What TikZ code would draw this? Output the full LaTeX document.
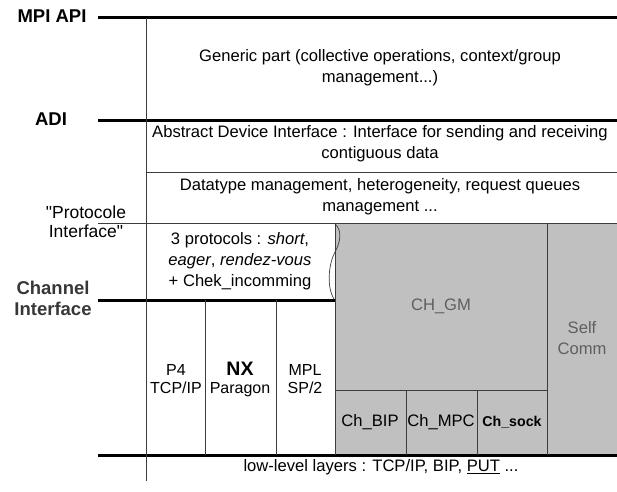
\documentclass[tikz,border=0pt]{standalone}
\usepackage{fontspec}
\setmainfont{Liberation Sans}
\definecolor{layergray}{RGB}{192,192,192}
\definecolor{rulegray}{RGB}{60,60,60}
\definecolor{gmgray}{RGB}{95,95,95}
\definecolor{chgray}{RGB}{55,55,55}

\begin{document}
\begin{tikzpicture}[x = 1pt, y = -1pt]
\tikzstyle{LevelStyle}=[
font = \fontsize{18.5}{21}\selectfont\bfseries,
align = center,
inner sep = 0pt]
\tikzstyle{TextStyle}=[
font = \fontsize{16.6}{20.8}\selectfont,
align = center,
inner sep = 0pt]
\tikzstyle{ThickRule}=[line width = 3pt]
\tikzstyle{ThinRule}=[line width = 0.9pt, draw = rulegray]
\useasboundingbox (0, 0) rectangle (617, 491);
% grey channel devices
\fill[layergray] (335, 223) rectangle (617, 455);
% level names
\node[LevelStyle] (mpi) at (52, 16) {MPI API};
\node[LevelStyle] (adi) at (51, 119) {ADI};
\node[TextStyle, font = \fontsize{17.5}{19}\selectfont] (proto) at (86, 222) {\textquotedbl Protocole\\Interface\textquotedbl};
\node[LevelStyle, text = chgray] (chan) at (53, 298) {Channel\\Interface};
% layer contents
\node[TextStyle] (generic) at (380, 68) {Generic part (collective operations, context/group\\management...)};
\node[TextStyle] (abstract) at (380, 144) {Abstract Device Interface : Interface for sending and receiving\\contiguous data};
\node[TextStyle] (datatype) at (380, 197) {Datatype management, heterogeneity, request queues\\management ...};
\node[TextStyle] (protocols) at (240, 261) {3 protocols : \textit{short},\\\textit{eager}, \textit{rendez-vous}\\+ Chek\_incomming};
\node[TextStyle, font = \fontsize{16}{18}\selectfont] (p4) at (176, 379) {P4\\TCP/IP};
\node[TextStyle, font = \fontsize{16}{18}\selectfont] (nx) at (240, 379) {{\fontsize{19.5}{18}\selectfont\bfseries NX}\\Paragon};
\node[TextStyle, font = \fontsize{16}{18}\selectfont] (mpl) at (305, 379) {MPL\\SP/2};
\node[TextStyle, text = gmgray] (gm) at (441, 306) {CH\_GM};
\node[TextStyle, text = gmgray] (self) at (582, 338) {Self\\Comm};
\node[TextStyle] (bip) at (370, 422) {Ch\_BIP};
\node[TextStyle] (mpc) at (441, 422) {Ch\_MPC};
\node[TextStyle, font = \fontsize{14.2}{17}\selectfont\bfseries] (sock) at (512, 422) {Ch\_sock};
\node[TextStyle] (low) at (381, 467) {low-level layers : TCP/IP, BIP, \underline{PUT} ...};
% interfaces
\draw[ThickRule] (98, 17) -- (617, 17);
\draw[ThickRule] (98, 120) -- (617, 120);
\draw[ThinRule] (146, 172) -- (617, 172);
\draw[ThinRule] (98, 223) -- (617, 223);
\draw[ThickRule] (98, 300) -- (335, 300);
\draw[ThickRule] (98, 455) -- (617, 455);
% columns
\draw[ThinRule] (146, 18) -- (146, 481);
\draw[ThinRule] (205, 300) -- (205, 455);
\draw[ThinRule] (276, 300) -- (276, 455);
\draw[ThinRule] (335, 223) -- (335, 455);
\draw[ThinRule] (547, 223) -- (547, 455);
\draw[ThinRule] (335, 390) -- (547, 390);
\draw[ThinRule] (406, 390) -- (406, 455);
\draw[ThinRule] (477, 390) -- (477, 455);
% wavy border
\draw[ThinRule, line width = 0.7pt] (335, 224) .. controls (342, 230) and (341, 241) .. (335, 252)
.. controls (329, 263) and (326, 286) .. (334, 299);
\end{tikzpicture}
\end{document}
